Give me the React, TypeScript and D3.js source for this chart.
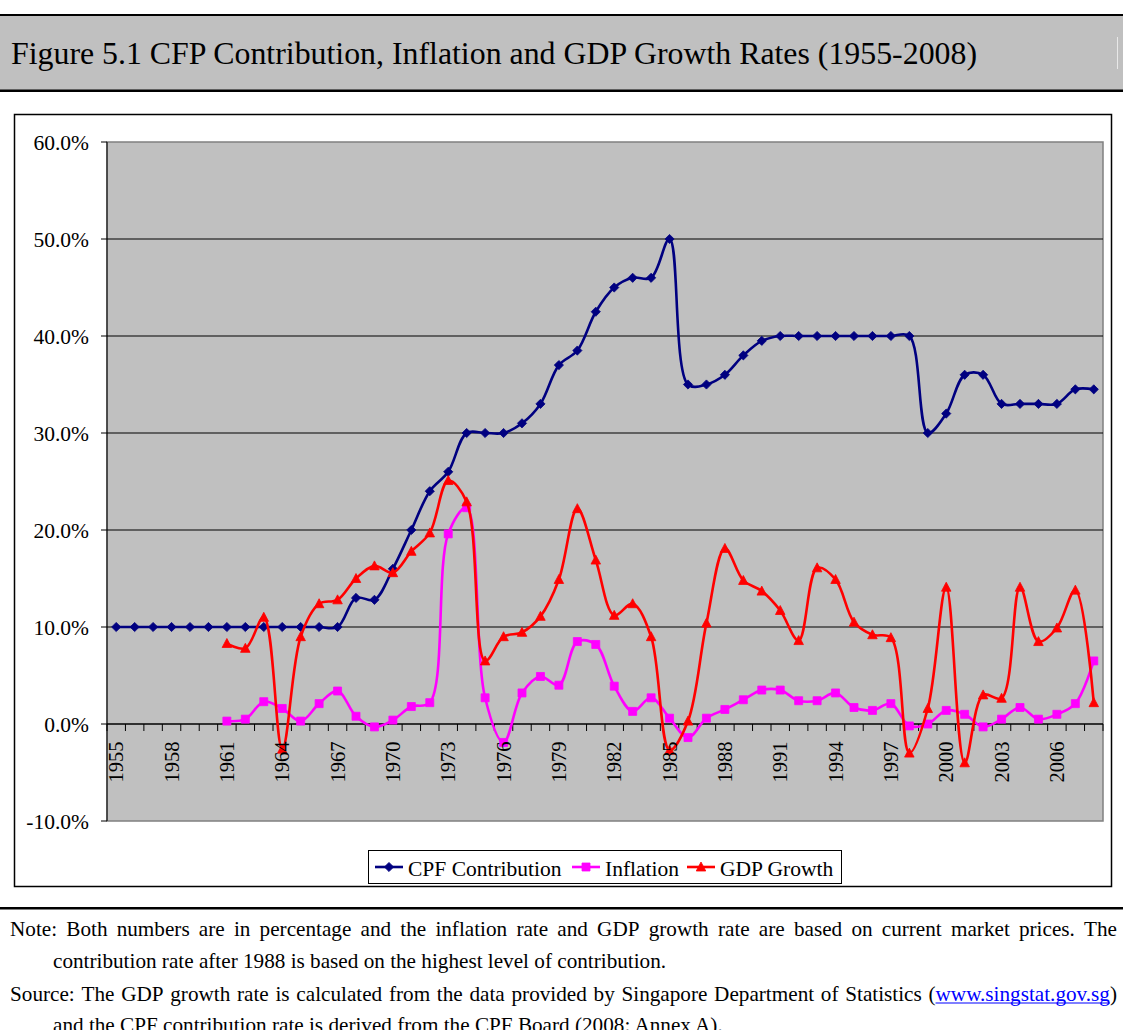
import React from "react";
import * as d3 from "d3";

const YEARS: number[] = d3.range(1955, 2009);
const CPF: number[] = [
  10, 10, 10, 10, 10, 10, 10, 10, 10, 10, 10, 10, 10,
  13, 12.8, 16, 20, 24, 26, 30, 30, 30, 31, 33, 37, 38.5, 42.5, 45, 46, 46, 50, 35, 35, 36, 38, 39.5,
  40, 40, 40, 40, 40, 40, 40, 40,
  30, 32, 36, 36, 33, 33, 33, 33, 34.5, 34.5,
];
const INFLATION_START = 1961;
const INFLATION: number[] = [
  0.3, 0.5, 2.3, 1.6, 0.3, 2.1, 3.4, 0.8, -0.3, 0.4, 1.8, 2.2,
  19.6, 22.3, 2.7, -1.9, 3.2, 4.9, 4.0, 8.5, 8.2, 3.9, 1.3, 2.7,
  0.6, -1.4, 0.6, 1.5, 2.5, 3.5, 3.5, 2.4, 2.4, 3.2, 1.7, 1.4,
  2.1, -0.2, 0.0, 1.4, 1.0, -0.3, 0.5, 1.7, 0.5, 1.0, 2.1, 6.5,
];
const GDP_START = 1961;
const GDP: number[] = [
  8.3, 7.8, 11.0, -2.6, 9.0, 12.4, 12.8, 15.0, 16.3, 15.6, 17.8, 19.7,
  25.1, 22.9, 6.5, 9.0, 9.45, 11.1, 14.9, 22.2, 16.9, 11.2, 12.4, 9.0,
  -2.7, 0.3, 10.4, 18.1, 14.8, 13.7, 11.7, 8.6, 16.1, 14.9, 10.5, 9.2,
  8.9, -3.0, 1.6, 14.1, -4.0, 3.0, 2.65, 14.1, 8.5, 9.9, 13.8, 2.2,
];
const Y_TICKS: number[] = [-10, 0, 10, 20, 30, 40, 50, 60];
const X_LABEL_YEARS: number[] = YEARS.filter((_, i) => i % 3 === 0);

const TITLE = "Figure 5.1 CFP Contribution, Inflation and GDP Growth Rates (1955-2008)";
const NOTE1 = "Note: Both numbers are in percentage and the inflation rate and GDP growth rate are based on current market prices. The";
const NOTE2 = "contribution rate after 1988 is based on the highest level of contribution.";
const SRC1A = "Source: The GDP growth rate is calculated from the data provided by Singapore Department of Statistics";
const SRC1LINK = "www.singstat.gov.sg";
const SRC2 = "and the CPF contribution rate is derived from the CPF Board (2008: Annex A).";

const NAVY = "#000080";
const MAGENTA = "#FF00FF";
const RED = "#FF0000";
const FONT = "'Liberation Serif', 'Times New Roman', serif";
const NOTE_SIZE = 21.2;

type Pt = [number, number];
type Seg = { t: string; link?: boolean };

function diamond(r: number) {
  return `M0,${-r}L${r},0L0,${r}L${-r},0Z`;
}
function square(r: number) {
  return `M${-r},${-r}H${r}V${r}H${-r}Z`;
}
function triangle(w: number, h: number) {
  return `M0,${-h / 2 - 1}L${w / 2},${h / 2}L${-w / 2},${h / 2}Z`;
}
function pct(t: number) {
  const s = Math.abs(t).toFixed(1) + "%";
  return t < 0 ? "-" + s : s;
}

let ctx: CanvasRenderingContext2D | null = null;
function measure(txt: string, size: number) {
  if (!ctx) {
    const c = document.createElement("canvas");
    ctx = c.getContext("2d");
  }
  if (!ctx) return txt.length * size * 0.45;
  ctx.font = `${size}px "Liberation Serif", "Times New Roman", serif`;
  return ctx.measureText(txt).width;
}

// Justify words (each word is a list of segments) between x0 and x1
function justify(words: Seg[][], x0: number, x1: number, size: number) {
  const widths = words.map((w) => w.map((s) => measure(s.t, size)));
  const total = d3.sum(widths.map((ws) => d3.sum(ws)));
  const gap = (x1 - x0 - total) / (words.length - 1);
  const out: { t: string; x: number; w: number; link?: boolean }[] = [];
  let cur = x0;
  words.forEach((w, i) => {
    w.forEach((s, j) => {
      out.push({ t: s.t, x: cur, w: widths[i][j], link: s.link });
      cur += widths[i][j];
    });
    cur += gap;
  });
  return out;
}

export default function App() {
  const W = 1123;
  const H = 1030;
  const pl = 107, pr = 1103, pt = 142, pb = 821;

  const x = d3.scaleBand<number>().domain(YEARS).range([pl, pr]).padding(0);
  const cx = (yr: number) => (x(yr) as number) + x.bandwidth() / 2;
  const y = d3.scaleLinear().domain([-10, 60]).range([pb, pt]);

  const line = d3
    .line<Pt>()
    .x((d) => cx(d[0]))
    .y((d) => y(d[1]))
    .curve(d3.curveCatmullRom.alpha(0.5));

  const cpfPts: Pt[] = CPF.map((v, i) => [YEARS[0] + i, v]);
  const infPts: Pt[] = INFLATION.map((v, i) => [INFLATION_START + i, v]);
  const gdpPts: Pt[] = GDP.map((v, i) => [GDP_START + i, v]);

  const series = [
    { name: "CPF Contribution", pts: cpfPts, color: NAVY, marker: diamond(4.6) },
    { name: "Inflation", pts: infPts, color: MAGENTA, marker: square(4) },
    { name: "GDP Growth", pts: gdpPts, color: RED, marker: triangle(9.5, 8) },
  ];

  const boundaries = d3.range(YEARS.length + 1).map((k) => pl + k * x.bandwidth());

  const legendItems = [
    { s: series[0], lx: 375, tx: 408 },
    { s: series[1], lx: 572, tx: 605 },
    { s: series[2], lx: 687, tx: 720 },
  ];

  const note1Words: Seg[][] = NOTE1.split(" ").map((w) => [{ t: w }]);
  const src1Words: Seg[][] = [
    ...SRC1A.split(" ").map((w) => [{ t: w }]),
    [{ t: "(" }, { t: SRC1LINK, link: true }, { t: ")" }],
  ];
  const note1Laid = justify(note1Words, 10, 1117, NOTE_SIZE);
  const src1Laid = justify(src1Words, 10, 1117, NOTE_SIZE);

  return (
    <svg
      width={W}
      height={H}
      viewBox={`0 0 ${W} ${H}`}
      style={{ position: "absolute", left: 0, top: 0, background: "#fff" }}
      fontFamily={FONT}
    >
      <rect x={0} y={0} width={W} height={H} fill="#fff" />
      {/* Title band */}
      <rect x={0} y={15} width={W} height={76} fill="#C0C0C0" />
      <line x1={0} x2={W} y1={15} y2={15} stroke="#000" strokeWidth={2} />
      <line x1={0} x2={W} y1={90.8} y2={90.8} stroke="#000" strokeWidth={2.5} />
      <line x1={1117.5} x2={1117.5} y1={37} y2={69} stroke="#e8e8e8" strokeWidth={1} />
      <text x={11} y={64} fontSize={32} textLength={966} lengthAdjust="spacingAndGlyphs" fill="#000">
        {TITLE}
      </text>

      {/* Chart frame */}
      <rect x={14.5} y={114.5} width={1097} height={772} fill="#fff" stroke="#000" strokeWidth={1.5} />

      {/* Plot area */}
      <rect x={pl} y={pt} width={pr - pl} height={pb - pt} fill="#C0C0C0" stroke="#808080" strokeWidth={1.5} />
      {Y_TICKS.filter((t) => t > -10 && t < 60).map((t) => (
        <line key={"g" + t} x1={pl} x2={pr} y1={y(t)} y2={y(t)} stroke="#000" strokeWidth={1.2} />
      ))}
      {/* value axis */}
      <line x1={pl} x2={pl} y1={pt} y2={pb} stroke="#000" strokeWidth={1} />
      {Y_TICKS.map((t) => (
        <g key={"yt" + t}>
          <line x1={pl - 6} x2={pl} y1={y(t)} y2={y(t)} stroke="#000" strokeWidth={1} />
          <text x={89} y={y(t) + 7.5} fontSize={21.5} textAnchor="end" fill="#000">
            {pct(t)}
          </text>
        </g>
      ))}
      {/* category axis */}
      <line x1={pl} x2={pr} y1={y(0)} y2={y(0)} stroke="#000" strokeWidth={1.2} />
      {boundaries.map((bx, i) => (
        <line key={"xt" + i} x1={bx} x2={bx} y1={y(0)} y2={y(0) + 7} stroke="#000" strokeWidth={1} />
      ))}

      {/* Series */}
      {series.map((s) => (
        <g key={s.name}>
          <path d={line(s.pts) || ""} fill="none" stroke={s.color} strokeWidth={2.6} strokeLinejoin="round" />
          {s.pts.map((p) => (
            <path key={p[0]} d={s.marker} transform={`translate(${cx(p[0])},${y(p[1])})`} fill={s.color} stroke={s.color} strokeWidth={0.8} />
          ))}
        </g>
      ))}

      {/* category labels */}
      {X_LABEL_YEARS.map((yr) => (
        <text
          key={"xl" + yr}
          transform={`translate(${cx(yr)},${y(0) + 17.5}) rotate(-90)`}
          textAnchor="end"
          dy="0.34em"
          fontSize={20.5}
          fill="#000"
        >
          {yr}
        </text>
      ))}

      {/* Legend */}
      <rect x={368.5} y={850.5} width={473} height={33} fill="#fff" stroke="#000" strokeWidth={1} />
      {legendItems.map(({ s, lx, tx }) => (
        <g key={"lg" + s.name}>
          <line x1={lx} x2={lx + 28} y1={867} y2={867} stroke={s.color} strokeWidth={2.6} />
          <path d={s.marker} transform={`translate(${lx + 14},867)`} fill={s.color} stroke={s.color} strokeWidth={0.8} />
          <text x={tx} y={876} fontSize={21.5} fill="#000">
            {s.name}
          </text>
        </g>
      ))}

      {/* Notes */}
      <line x1={0} x2={W} y1={908.3} y2={908.3} stroke="#000" strokeWidth={2.5} />
      <g fontSize={NOTE_SIZE}>
        {note1Laid.map((s, i) => (
          <text key={"n1" + i} x={s.x} y={935.5} fill="#000">
            {s.t}
          </text>
        ))}
        <text x={53} y={968} fill="#000">
          {NOTE2}
        </text>
        {src1Laid.map((s, i) => (
          <g key={"s1" + i}>
            <text x={s.x} y={1000.5} fill={s.link ? "#0000FF" : "#000"}>
              {s.t}
            </text>
            {s.link && <line x1={s.x} x2={s.x + s.w} y1={1003} y2={1003} stroke="#0000FF" strokeWidth={1.2} />}
          </g>
        ))}
        <text x={53} y={1031.5} fill="#000">
          {SRC2}
        </text>
      </g>
    </svg>
  );
}
